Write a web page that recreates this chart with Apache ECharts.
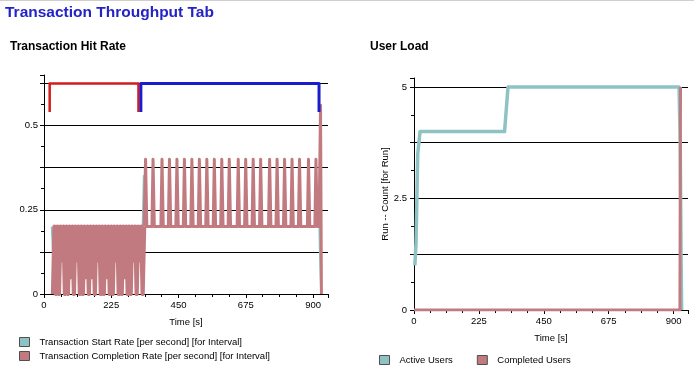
<!DOCTYPE html>
<html>
<head>
<meta charset="utf-8">
<script src="https://cdn.jsdelivr.net/npm/echarts@6/dist/echarts.min.js"></script>
<style>
html, body { margin: 0; padding: 0; background: #fff; }
#main { width: 694px; height: 377px; }
#topline { position: absolute; left: 0; top: 0; width: 694px; height: 1px; background: #cfcfcf; }
</style>
</head>
<body>
<div id="main"></div>
<div id="topline"></div>
<script>
var FONT = '"Liberation Sans", Arial, sans-serif';
var TEAL = '#8fc3c3';
var PINK = '#c17a7f';

// Transaction Hit Rate
// ramp-up part of the completion rate, sampled every 5 s from t = 30 s
var rampStart = 30;
var rampStep = 5;
var rampRate = [
  0, 0.2, 0, 0.2, 0, 0.2, 0.1, 0.2, 0, 0.2,
  0, 0.2, 0.05, 0.2, 0, 0.2, 0.1, 0.2, 0, 0.2,
  0, 0.2, 0.05, 0.2, 0, 0.2, 0.05, 0.2, 0, 0.2,
  0.1, 0.2, 0, 0.2, 0, 0.2, 0.05, 0.2, 0, 0.2,
  0, 0.2, 0.1, 0.2, 0, 0.2, 0, 0.2, 0.05, 0.2,
  0, 0.2, 0, 0.2, 0.1, 0.2, 0, 0.2, 0.1, 0.2,
  0, 0.2
];
// steady part: rate sits at 0.2 with short bursts to the listed peaks
var steadyBase = 0.2;
var steadyPeaks = [
  [340, 0.4], [365, 0.4], [395, 0.4], [420, 0.4], [445, 0.4], [470, 0.4],
  [495, 0.4], [520, 0.4], [545, 0.4], [570, 0.4], [595, 0.4], [620, 0.4],
  [650, 0.4], [675, 0.4], [700, 0.4], [725, 0.4], [755, 0.4], [780, 0.4],
  [805, 0.4], [830, 0.4], [855, 0.4], [885, 0.4], [910, 0.4]
];
var rateTail = [[916, 0.3], [920, 0.2], [925, 0.56], [928, 0]];

// start rate sits mostly behind the completion rate, it only shows at the edges
var startRate = [[26, 0.2], [29, 0.2], [36, 0], [40, 0.2], [330, 0.2], [334, 0.35], [340, 0.2],
  [915, 0.2], [919, 0.3], [923, 0.12], [927, 0]];
// phase brackets above the plot
var rampPhase = [[19, 0.54], [19, 0.625], [316, 0.625], [316, 0.54]];
var steadyPhase = [[324, 0.54], [324, 0.625], [920, 0.625], [920, 0.54]];

// User Load
var activeUsers = [[3, 1], [7, 1.5], [10, 2.5], [13, 3.5], [21, 4], [314, 4], [326, 5],
  [919, 5], [923, 3.75], [926, 1.2], [928, 0]];
var completedUsers = [[0, 0], [922, 0], [924, 5]];

var startName = 'Transaction Start Rate [per second] [for Interval]';
var completionName = 'Transaction Completion Rate [per second] [for Interval]';

function rampPoints() {
  return rampRate.map(function (v, i) { return [rampStart + i * rampStep, v]; });
}

function steadyPoints() {
  var pts = [rampPoints().pop()];
  steadyPeaks.forEach(function (p) {
    pts.push([p[0] - 4, steadyBase], [p[0] - 0.3, p[1]], [p[0] + 0.3, p[1]], [p[0] + 4, steadyBase]);
  });
  return pts.concat(rateTail);
}

function labelEvery(step) {
  return function (v) {
    var k = v / step;
    return Math.abs(k - Math.round(k)) < 1e-6 ? String(+v.toFixed(3)) : '';
  };
}

function timeAxis(gridIndex) {
  return {
    type: 'value', gridIndex: gridIndex, min: 0, max: 950, interval: 225,
    name: 'Time [s]', nameLocation: 'middle', nameGap: 23,
    nameTextStyle: { fontFamily: FONT, fontSize: 9.5, color: '#000' },
    axisLine: { show: true, lineStyle: { color: '#000', width: 1 } },
    axisTick: { show: true, length: 4, lineStyle: { color: '#000' } },
    minorTick: { show: true, splitNumber: 4, length: 3, lineStyle: { color: '#000' } },
    axisLabel: { fontFamily: FONT, fontSize: 9.5, color: '#000', margin: 6, showMaxLabel: false },
    splitLine: { show: false }
  };
}

function countAxis(gridIndex, max, interval, labelStep, margin) {
  return {
    type: 'value', gridIndex: gridIndex, min: 0, max: max, interval: interval,
    axisLine: { show: true, lineStyle: { color: '#000', width: 1 } },
    axisTick: { show: true, length: 4, lineStyle: { color: '#000' } },
    minorTick: { show: true, splitNumber: 2, length: 3, lineStyle: { color: '#000' } },
    axisLabel: { fontFamily: FONT, fontSize: 9.5, color: '#000', margin: margin, formatter: labelEvery(labelStep) },
    splitLine: { show: true, showMaxLine: false, lineStyle: { color: '#000', width: 1 } }
  };
}

function line(name, axis, data, color, width) {
  return {
    name: name, type: 'line', xAxisIndex: axis, yAxisIndex: axis,
    data: data, color: color, symbol: 'none', showSymbol: false,
    lineStyle: { width: width, color: color, join: 'round' }, silent: true
  };
}

var legendBase = {
  icon: 'rect', itemWidth: 10, itemHeight: 9, selectedMode: false,
  itemStyle: { borderColor: '#505050', borderWidth: 1 },
  textStyle: { fontFamily: FONT, fontSize: 9.5, color: '#000', padding: [0, 0, 0, 5] }
};

var myChart = echarts.init(document.getElementById('main'));
var option = {
  animation: false,
  backgroundColor: '#fff',
  title: [
    { text: 'Transaction Throughput Tab', left: 5, top: 5, padding: 0,
      textStyle: { fontFamily: FONT, fontSize: 15.5, fontWeight: 'bold', color: '#2323c8' } },
    { text: 'Transaction Hit Rate', left: 10, top: 41, padding: 0,
      textStyle: { fontFamily: FONT, fontSize: 12, fontWeight: 'bold', color: '#000' } },
    { text: 'User Load', left: 370, top: 41, padding: 0,
      textStyle: { fontFamily: FONT, fontSize: 12, fontWeight: 'bold', color: '#000' } }
  ],
  legend: [
    Object.assign({}, legendBase, { data: [startName, completionName], orient: 'vertical', left: 14, top: 332, itemGap: 4 }),
    Object.assign({}, legendBase, { data: ['Active Users', 'Completed Users'], orient: 'horizontal', left: 374, top: 350, itemGap: 24 })
  ],
  grid: [
    { left: 44, right: 366, top: 75, bottom: 83 },
    { left: 414, right: 6, top: 78, bottom: 67 }
  ],
  xAxis: [timeAxis(0), timeAxis(1)],
  yAxis: [
    countAxis(0, 0.65, 0.125, 0.25, 6),
    Object.assign(countAxis(1, 5.2, 1.25, 2.5, 7), {
      name: 'Run -- Count [for Run]', nameLocation: 'middle', nameGap: 23,
      nameTextStyle: { fontFamily: FONT, fontSize: 9.5, color: '#000' }
    })
  ],
  series: [
    line(startName, 0, startRate, TEAL, 2),
    line(completionName, 0, rampPoints(), PINK, 4.2),
    line(completionName, 0, steadyPoints(), PINK, 3),
    line('Ramp', 0, rampPhase, '#d41c1c', 2.5),
    line('Steady', 0, steadyPhase, '#1c1ccc', 3),
    line('Active Users', 1, activeUsers, TEAL, 3.5),
    line('Completed Users', 1, completedUsers, PINK, 3)
  ]
};
myChart.setOption(option);
</script>
</body>
</html>
